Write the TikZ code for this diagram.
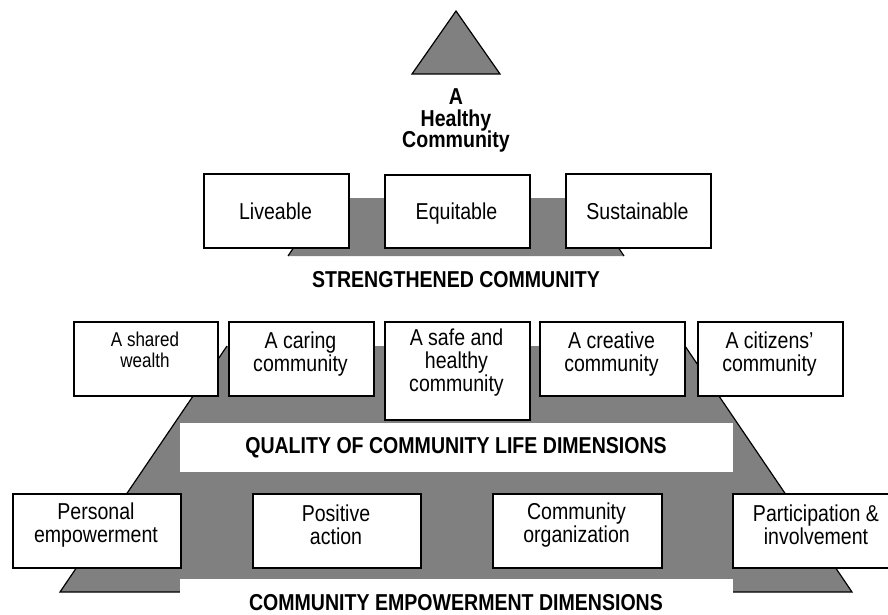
\documentclass[tikz,border=0pt]{standalone}
\usepackage{fontspec}
\setmainfont{Liberation Sans}[FakeStretch=0.85]
\definecolor{pyrgray}{RGB}{128,128,128}

\begin{document}
\begin{tikzpicture}[x=1pt,y=-1pt,
  boxframe/.style={draw=black, line width=1.6pt, fill=white, inner sep=0pt, anchor=north west},
  boxtext/.style={align=center, inner sep=0pt, font=\fontsize{23}{23}\selectfont},
  lonetext/.style={inner sep=0pt, anchor=base, font=\fontsize{23}{23}\selectfont},
  smalltext/.style={align=center, inner sep=0pt, font=\fontsize{20}{20.5}\selectfont},
  heading/.style={align=center, inner sep=0pt, font=\fontsize{23}{21.7}\selectfont\bfseries},
  edgeline/.style={draw=black, line width=1.2pt, line join=miter}
]
\useasboundingbox (0,0) rectangle (888,615);

% apex triangle
\path[fill=pyrgray, edgeline] (456,11) -- (500,74) -- (412,74) -- cycle;

% middle tier of the pyramid
\fill[pyrgray] (327,198) -- (585,198) -- (624,256) -- (288,256) -- cycle;
\draw[edgeline] (327,198) -- (288,256);
\draw[edgeline] (585,198) -- (624,256);

% lower tier of the pyramid
\fill[pyrgray] (227,346) -- (685,346) -- (852,592) -- (60,592) -- cycle;
\draw[edgeline] (227,346) -- (60,592) -- (852,592) -- (685,346);

% white bands across the lower tier
\fill[white] (180,423) rectangle (733,472);
\fill[white] (180,579) rectangle (733,615);

% title
\node[heading] (hc) at (456,120.5) {A\\Healthy\\Community};

% strengthened community
\node[boxframe, minimum width=145pt, minimum height=74pt] (liv) at (203,173) {};
\node[boxframe, minimum width=145pt, minimum height=73pt] (equ) at (384,174) {};
\node[boxframe, minimum width=145pt, minimum height=74pt] (sus) at (565,173) {};
\node[lonetext] (livt) at (275.5,219) {Liveable};
\node[lonetext] (equt) at (456.5,219) {Equitable};
\node[lonetext] (sust) at (637.5,219) {Sustainable};
\node[heading] (strong) at (456,280) {STRENGTHENED COMMUNITY};

% quality of community life dimensions
\node[boxframe, minimum width=144pt, minimum height=74pt] (shw) at (73,321) {};
\node[boxframe, minimum width=145pt, minimum height=74pt] (car) at (228,321) {};
\node[boxframe, minimum width=145pt, minimum height=98pt] (saf) at (384,321) {};
\node[boxframe, minimum width=145pt, minimum height=74pt] (cre) at (539,321) {};
\node[boxframe, minimum width=145pt, minimum height=74pt] (cit) at (697,321) {};
\node[smalltext] (shwt) at (145,350) {A shared\\wealth};
\node[boxtext] (cart) at (300.5,354) {A caring\\community};
\node[boxtext] (saft) at (456.5,363) {A safe and\\healthy\\community};
\node[boxtext] (cret) at (611.5,354) {A creative\\community};
\node[boxtext] (citt) at (769.5,354) {A citizens’\\community};
\node[heading] (qual) at (456,447.5) {QUALITY OF COMMUNITY LIFE DIMENSIONS};

% community empowerment dimensions
\node[boxframe, minimum width=168pt, minimum height=74pt] (per) at (12,493) {};
\node[boxframe, minimum width=168pt, minimum height=74pt] (pos) at (252,493) {};
\node[boxframe, minimum width=169pt, minimum height=74pt] (org) at (492,493) {};
\node[boxframe, minimum width=168pt, minimum height=74pt] (par) at (732,493) {};
\node[boxtext] (pert) at (96,525) {Personal\\empowerment};
\node[boxtext] (post) at (336,524.5) {Positive\\action};
\node[boxtext] (orgt) at (576.5,525) {Community\\organization};
\node[boxtext] (part) at (816,525) {Participation \&\\involvement};
\node[heading] (emp) at (456,603) {COMMUNITY EMPOWERMENT DIMENSIONS};
\end{tikzpicture}
\end{document}
